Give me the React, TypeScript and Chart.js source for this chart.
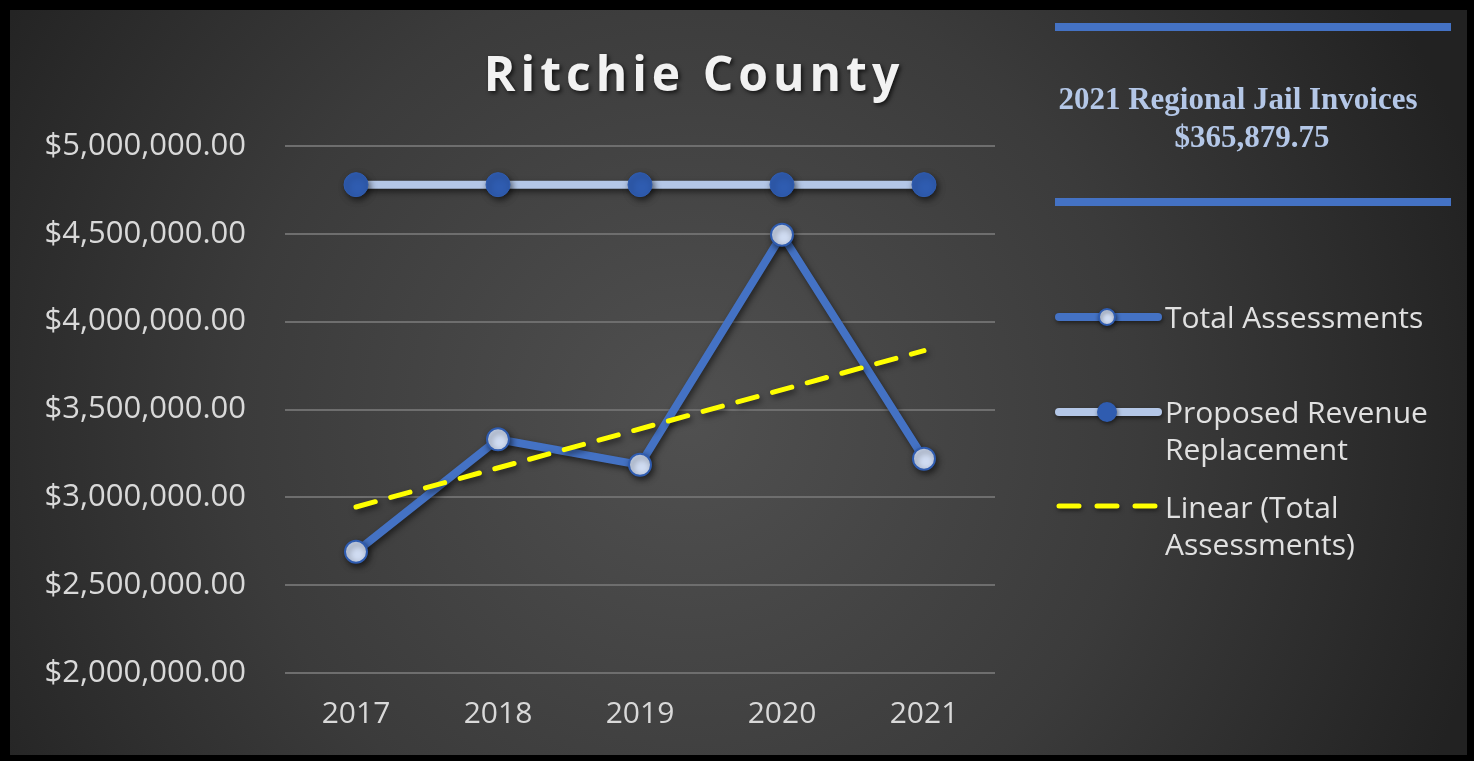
import React, { useEffect, useRef } from "react";
import { Chart, registerables } from "chart.js";

Chart.register(...registerables);

const years = ["2017", "2018", "2019", "2020", "2021"];
const totalAssessments = [2690000, 3330000, 3185000, 4495000, 3220000];
const proposedRevenue = [4780000, 4780000, 4780000, 4780000, 4780000];
const linearTrend = [2945000, null, null, null, 3835000];
const yTicks = [2000000, 2500000, 3000000, 3500000, 4000000, 4500000, 5000000];

const titleText = "Ritchie County";
const boxLine1 = "2021 Regional Jail Invoices";
const boxLine2 = "$365,879.75";
const legendLabels = [
  ["Total Assessments"],
  ["Proposed Revenue", "Replacement"],
  ["Linear (Total", "Assessments)"],
];

const W = 1474;
const H = 761;
const BLUE = "#4472C4";
const LIGHT = "#B4C7E7";
const DARK = "#2F5CB0";
const YELLOW = "#FFFF00";
const SANS = "'Open Sans', 'DejaVu Sans', sans-serif";

const fmt = (v: number) =>
  "$" + v.toLocaleString("en-US", { minimumFractionDigits: 2, maximumFractionDigits: 2 });

const bgPlugin = {
  id: "bgPlugin",
  beforeDraw(chart: any) {
    const ctx = chart.ctx;
    ctx.save();
    ctx.fillStyle = "#000";
    ctx.fillRect(0, 0, W, H);
    const g = ctx.createRadialGradient(690, 420, 0, 690, 420, 820);
    g.addColorStop(0, "#505050");
    g.addColorStop(0.55, "#3b3b3b");
    g.addColorStop(1, "#222222");
    ctx.fillStyle = g;
    ctx.fillRect(10, 10, 1457, 745);
    ctx.restore();
  },
  beforeDatasetsDraw(chart: any) {
    const ctx = chart.ctx;
    ctx.save();
    ctx.shadowColor = "rgba(0,0,0,0.55)";
    ctx.shadowBlur = 6;
    ctx.shadowOffsetX = 2;
    ctx.shadowOffsetY = 3;
  },
  afterDatasetsDraw(chart: any) {
    chart.ctx.restore();
  },
  afterDraw(chart: any) {
    const ctx = chart.ctx;
    ctx.save();
    // Title
    ctx.font = `bold 48px ${SANS}`;
    (ctx as any).letterSpacing = "5px";
    ctx.textAlign = "center";
    ctx.textBaseline = "middle";
    ctx.shadowColor = "rgba(0,0,0,0.7)";
    ctx.shadowBlur = 4;
    ctx.shadowOffsetX = 2;
    ctx.shadowOffsetY = 2;
    ctx.fillStyle = "#f2f2f2";
    ctx.fillText(titleText, 694, 77);
    ctx.restore();

    // Text box
    ctx.save();
    ctx.fillStyle = BLUE;
    ctx.fillRect(1055, 23, 396, 8);
    ctx.fillRect(1055, 198, 396, 8);
    ctx.fillStyle = LIGHT;
    ctx.font = "bold 31px 'Liberation Serif', serif";
    ctx.textAlign = "center";
    ctx.textBaseline = "middle";
    ctx.fillText(boxLine1, 1238, 101);
    ctx.fillText(boxLine2, 1252, 139);
    ctx.restore();

    // Legend
    ctx.save();
    ctx.shadowColor = "rgba(0,0,0,0.5)";
    ctx.shadowBlur = 4;
    ctx.shadowOffsetX = 1;
    ctx.shadowOffsetY = 2;
    ctx.lineCap = "round";
    // Total Assessments
    ctx.strokeStyle = BLUE;
    ctx.lineWidth = 8;
    ctx.beginPath();
    ctx.moveTo(1059, 317);
    ctx.lineTo(1158, 317);
    ctx.stroke();
    ctx.beginPath();
    ctx.arc(1107, 317, 8, 0, Math.PI * 2);
    ctx.fillStyle = "#D0DCF2";
    ctx.fill();
    ctx.lineWidth = 2;
    ctx.strokeStyle = DARK;
    ctx.stroke();
    // Proposed
    ctx.strokeStyle = LIGHT;
    ctx.lineWidth = 8;
    ctx.beginPath();
    ctx.moveTo(1059, 412);
    ctx.lineTo(1158, 412);
    ctx.stroke();
    ctx.beginPath();
    ctx.arc(1107, 412, 10, 0, Math.PI * 2);
    ctx.fillStyle = DARK;
    ctx.fill();
    // Linear
    ctx.strokeStyle = YELLOW;
    ctx.lineWidth = 5;
    ctx.setLineDash([20, 18]);
    ctx.beginPath();
    ctx.moveTo(1059, 506);
    ctx.lineTo(1158, 506);
    ctx.stroke();
    ctx.setLineDash([]);
    ctx.restore();

    ctx.save();
    ctx.fillStyle = "#e0e0e0";
    ctx.font = `30px ${SANS}`;
    ctx.textAlign = "left";
    ctx.textBaseline = "middle";
    const starts = [319, 414, 509];
    legendLabels.forEach((lines, i) => {
      lines.forEach((t, j) => ctx.fillText(t, 1165, starts[i] + j * 37));
    });
    ctx.restore();
  },
};

export default function App() {
  const ref = useRef<HTMLCanvasElement>(null);
  useEffect(() => {
    document.body.style.margin = "0";
    const chart = new Chart(ref.current as HTMLCanvasElement, {
      type: "line",
      data: {
        labels: years,
        datasets: [
          {
            label: "Total Assessments",
            data: totalAssessments,
            borderColor: BLUE,
            borderWidth: 8,
            pointRadius: 11,
            pointBackgroundColor: "#D0DCF2",
            pointBorderColor: DARK,
            pointBorderWidth: 2,
            tension: 0,
            order: 1,
            clip: false,
          },
          {
            label: "Proposed Revenue Replacement",
            data: proposedRevenue,
            borderColor: LIGHT,
            borderWidth: 8,
            pointRadius: 12,
            pointBackgroundColor: DARK,
            pointBorderColor: DARK,
            pointBorderWidth: 1,
            tension: 0,
            order: 2,
            clip: false,
          },
          {
            label: "Linear (Total Assessments)",
            data: linearTrend,
            borderColor: YELLOW,
            borderWidth: 5,
            borderDash: [20, 16],
            borderCapStyle: "round",
            pointRadius: 0,
            spanGaps: true,
            tension: 0,
            order: 0,
            clip: false,
          },
        ] as any,
      },
      options: {
        responsive: false,
        animation: false,
        devicePixelRatio: 1,
        layout: { padding: { top: 146, right: 479, bottom: 28, left: 0 } },
        plugins: { legend: { display: false }, tooltip: { enabled: false }, title: { display: false } },
        scales: {
          x: {
            offset: true,
            grid: { display: false, drawTicks: false },
            border: { display: false },
            ticks: { color: "#d9d9d9", font: { family: SANS, size: 30 }, padding: 23 },
            afterFit: (s: any) => {
              s.height = 60;
            },
          },
          y: {
            min: 2000000,
            max: 5000000,
            afterBuildTicks: (s: any) => {
              s.ticks = yTicks.map((v) => ({ value: v }));
            },
            grid: { color: "#6e6e6e", lineWidth: 2, drawTicks: false },
            border: { display: false },
            ticks: {
              color: "#d9d9d9",
              font: { family: SANS, size: 31 },
              padding: 39,
              callback: (v: any) => fmt(Number(v)),
            },
            afterFit: (s: any) => {
              s.width = 285;
            },
          },
        },
      } as any,
      plugins: [bgPlugin],
    });
    return () => chart.destroy();
  }, []);
  return (
    <div style={{ width: W, height: H }}>
      <canvas ref={ref} width={W} height={H} style={{ display: "block" }} />
    </div>
  );
}
